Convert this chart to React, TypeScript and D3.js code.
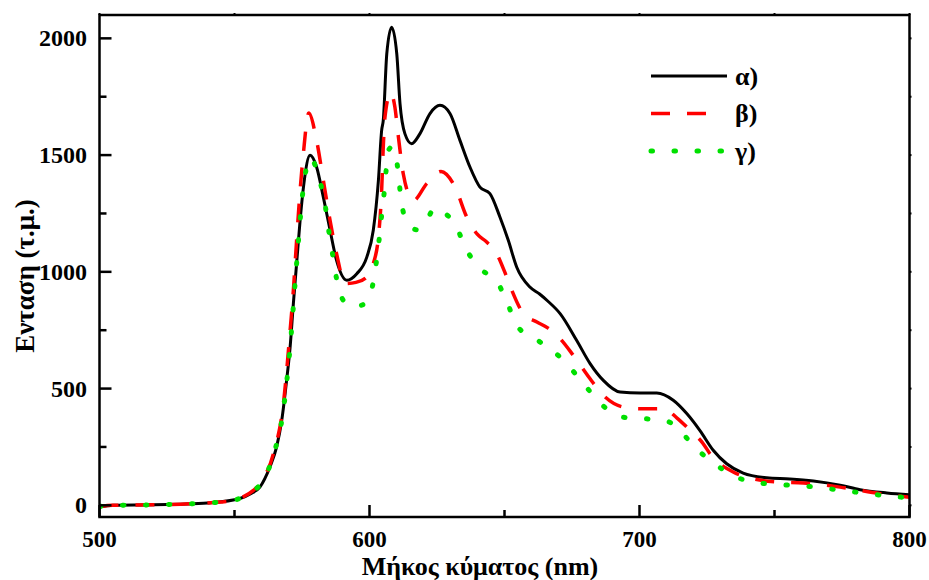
import React from "react";
import * as d3 from "d3";

// ---- data ----
const waveA = [500,505,520,530,540,545,550,552,556,559.4,563.1,565.6,567.5,569.3,570.6,571.8,573,574.3,575.7,578,580.4,582.9,585.4,587.8,591.6,595.3,599,601.4,603.3,604.5,605.1,606.4,608.2,610.1,611.3,613.1,615.6,618.7,622.4,626.1,629.8,633.5,637.2,640.9,644.6,648.3,651.4,654.5,659.4,663,666,670.6,676.7,681.7,686.6,692.8,700.2,706.4,712.5,717.5,722.4,727.3,732.3,738.4,747.1,755.7,764.4,774.3,781.7,791.6,800];
const intA = [-8,0,2,5,10,15,24,29,50,78,164,250,364,535,678,864,1035,1220,1378,1499,1449,1320,1178,1049,964,992,1063,1178,1392,1606,1649,1934,2048,1934,1720,1592,1549,1592,1678,1713,1678,1563,1449,1363,1335,1235,1135,1021,935,905,875,821,707,607,535,485,481,481,450,393,320,236,178,138,118,113,104,86,67,53,45];

const waveB = [500,505,520,530,540,545,550,553,557,560.5,564.4,568.1,570.6,571.8,573,574.3,575.5,577.5,580.4,582.9,585.4,587.8,591,595,599,601.4,603.3,604.5,605.1,605.7,607.8,609.4,610.7,612.5,616.2,621.2,626.5,631.7,636,640,643.4,647.1,650.8,652.7,657,662,666,670.6,675.5,681.7,686,694,700.2,708.8,713.8,718,723.6,726.1,734.7,739.7,750.8,760.7,774.3,789.1,800];
const intB = [-5,0,2,5,10,14,22,35,64,110,221,435,749,921,1135,1349,1506,1680,1563,1392,1220,1078,950,955,978,1035,1149,1349,1535,1660,1768,1706,1578,1420,1305,1378,1430,1363,1235,1160,1128,1078,978,921,821,785,760,714,642,542,478,421,414,414,375,330,264,221,143,121,100,96,78,50,35];

const waveC = [500,505,520,530,540,545,550,553,557,560.5,564.4,568,570.6,573,575.5,578,581.7,583.5,584.7,586,587.8,590.3,594,598.3,601.4,602.7,603.6,604.5,605.4,606.1,607,608.3,609.4,610.7,611.5,613.1,617.5,620.5,624.5,628,631.7,635.4,640.3,647.7,651.4,654.5,663.1,671.2,678.6,685.4,693.4,702,710.1,715,720,726.1,734.7,742.8,751.4,757.6,766.2,774.3,783,791.6,800];
const intC = [-5,0,2,5,10,14,22,35,62,105,215,400,678,1035,1360,1488,1385,1292,1192,1099,971,878,850,864,956,1056,1142,1242,1335,1428,1520,1535,1513,1420,1328,1235,1180,1210,1275,1250,1206,1106,1021,949,857,771,700,628,531,438,378,371,361,320,255,193,128,97,90,84,78,64,53,40,33];

const xMajorTicks = [500, 600, 700, 800];
const xMinorTicks = [550, 650, 750];
const yMajorTicks = [0, 500, 1000, 1500, 2000];
const yMinorTicks = [250, 750, 1250, 1750];
const legendLabels = ["α)", "β)", "γ)"];
const xTitle = "Μήκος κύματος (nm)";
const yTitle = "Ενταση (τ.μ.)";

const W = 929, H = 580;
const L = 99.5, R = 909.5, T = 15, B = 517;
const FONT = "'Liberation Serif', 'Times New Roman', serif";

export default function App() {
  const x = d3.scaleLinear().domain([500, 800]).range([L, R]);
  const y = d3.scaleLinear().domain([-50, 2100]).range([B, T]);
  const line = d3.line<[number, number]>()
    .x(d => x(d[0])).y(d => y(d[1]))
    .curve(d3.curveMonotoneX);

  const series = [
    { w: waveA, v: intA, color: "#000000", dash: "none", width: 3, cap: "butt" },
    { w: waveB, v: intB, color: "#ff0000", dash: "19 17", width: 3.5, cap: "butt" },
    { w: waveC, v: intC, color: "#00e000", dash: "1.5 21.5", width: 5, cap: "round" },
  ];

  return (
    <svg width={W} height={H} style={{ position: "absolute", left: 0, top: 0, background: "#fff" }}
      fontFamily={FONT}>
      <defs>
        <clipPath id="plot"><rect x={L} y={T} width={R - L} height={B - T} /></clipPath>
      </defs>
      <rect x={0} y={0} width={W} height={H} fill="#fff" />
      <g clipPath="url(#plot)">
        {series.map((s, i) => (
          <path key={i} d={line(s.w.map((w, j) => [w, s.v[j]] as [number, number])) || ""}
            fill="none" stroke={s.color} strokeWidth={s.width} strokeDasharray={s.dash}
            strokeLinecap={s.cap as any} strokeLinejoin="round" />
        ))}
      </g>
      {/* frame */}
      <rect x={L} y={T} width={R - L} height={B - T} fill="none" stroke="#000" strokeWidth={2.5} />
      {/* x ticks */}
      {xMajorTicks.map(t => (
        <g key={"xm" + t}>
          <line x1={x(t)} x2={x(t)} y1={B} y2={B - 12} stroke="#000" strokeWidth={2.5} />
          <line x1={x(t)} x2={x(t)} y1={T} y2={T - 2} stroke="#000" strokeWidth={2} />
          <text x={x(t)} y={547} textAnchor="middle" fontSize={23} fontWeight="bold">{t}</text>
        </g>
      ))}
      {xMinorTicks.map(t => (
        <g key={"xn" + t}>
          <line x1={x(t)} x2={x(t)} y1={B} y2={B - 7} stroke="#000" strokeWidth={2.5} />
          <line x1={x(t)} x2={x(t)} y1={T} y2={T - 2} stroke="#000" strokeWidth={2} />
        </g>
      ))}
      {/* y ticks */}
      {yMajorTicks.map(t => (
        <g key={"ym" + t}>
          <line x1={L} x2={L + 12} y1={y(t)} y2={y(t)} stroke="#000" strokeWidth={2.5} />
          <line x1={R} x2={R + 2} y1={y(t)} y2={y(t)} stroke="#000" strokeWidth={2} />
          <text x={87} y={y(t)} textAnchor="end" dominantBaseline="central"
            fontSize={24} fontWeight="bold">{t}</text>
        </g>
      ))}
      {yMinorTicks.map(t => (
        <g key={"yn" + t}>
          <line x1={L} x2={L + 7} y1={y(t)} y2={y(t)} stroke="#000" strokeWidth={2.5} />
          <line x1={R} x2={R + 2} y1={y(t)} y2={y(t)} stroke="#000" strokeWidth={2} />
        </g>
      ))}
      {/* axis titles */}
      <text x={480} y={575} textAnchor="middle" fontSize={26} fontWeight="bold">{xTitle}</text>
      <text transform="translate(34,276) rotate(-90)" textAnchor="middle" fontSize={27}
        fontWeight="bold">{yTitle}</text>
      {/* legend */}
      {series.map((s, i) => {
        const ly = 76 + i * 37.5;
        return (
          <g key={"lg" + i}>
            <line x1={651} x2={i === 1 ? 708 : 727} y1={ly} y2={ly} stroke={s.color}
              strokeWidth={s.width} strokeDasharray={s.dash} strokeLinecap={s.cap as any} />
            <text x={735} y={ly} dominantBaseline="central" fontSize={26} fontWeight="bold">
              {legendLabels[i]}</text>
          </g>
        );
      })}
    </svg>
  );
}
